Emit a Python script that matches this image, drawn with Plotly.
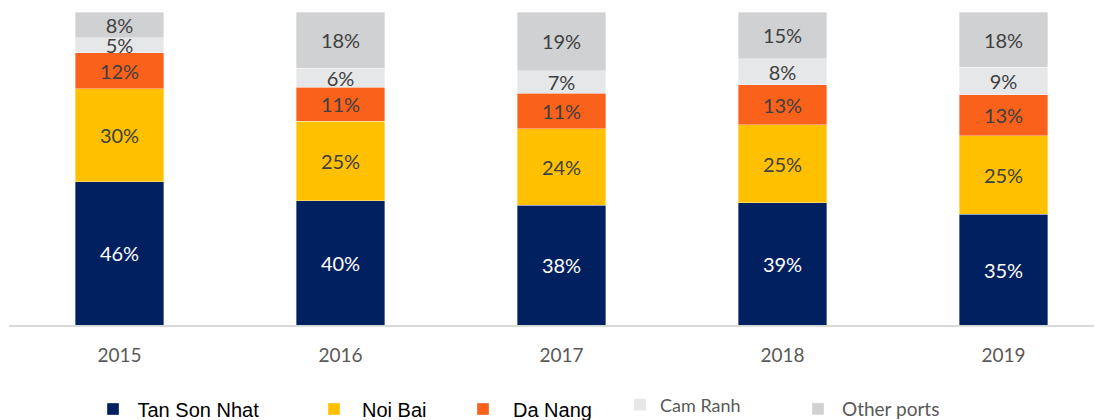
import plotly.graph_objects as go

years = ["2015", "2016", "2017", "2018", "2019"]
tan_son_nhat = [45.8, 39.7, 38.3, 39.1, 35.4]
noi_bai = [29.7, 25.4, 24.4, 24.9, 25.0]
da_nang = [11.5, 10.9, 11.3, 12.8, 13.1]
cam_ranh = [4.8, 6.1, 7.2, 8.2, 8.9]
other_ports = [8.2, 17.9, 18.8, 15.0, 17.6]

series = [
    ("Tan Son Nhat", tan_son_nhat, "#002060", "#FFFFFF", "legend"),
    ("Noi Bai", noi_bai, "#FFC000", "#404040", "legend2"),
    ("Da Nang", da_nang, "#FA621C", "#404040", "legend3"),
    ("Cam Ranh", cam_ranh, "#E6E7E8", "#404040", "legend4"),
    ("Other ports", other_ports, "#D0D1D3", "#404040", "legend5"),
]

fig = go.Figure()
for name, vals, color, tcolor, leg in series:
    fig.add_trace(go.Bar(
        x=years, y=vals, name=name, legend=leg, showlegend=True,
        marker=dict(color=color, line=dict(color="rgba(255,255,255,0.6)", width=0.6)),
        width=0.4,
        texttemplate="%{y:.0f}%", textposition="inside", insidetextanchor="middle",
        textangle=0,
        insidetextfont=dict(family="Lato, Open Sans, sans-serif", size=20, color=tcolor),
        hoverinfo="skip",
    ))

# The page body has an 8px default margin, so the figure is drawn at (8, 8).
OFF = 8
W, H = 1102 - OFF, 420 - OFF
ml, mr, mt, mb = 9 - OFF, 0, 12 - OFF, 420 - 325
pw = W - ml - mr
ph = H - mt - mb

def lx(px):
    return (px - OFF - ml) / pw

def ly(px):
    return (H - mb - (px - OFF)) / ph

legend_common = dict(orientation="h", xanchor="left", yanchor="middle",
                     bgcolor="rgba(0,0,0,0)", borderwidth=0, itemclick=False)
arial = dict(family="Liberation Sans, Arial, sans-serif", size=20, color="#000000")
lato_grey = dict(family="Lato, Open Sans, sans-serif", size=19, color="#595959")

fig.update_layout(
    width=W, height=H,
    barmode="stack",
    showlegend=True,
    margin=dict(l=ml, r=mr, t=mt, b=mb, pad=0, autoexpand=False),
    paper_bgcolor="white", plot_bgcolor="white",
    uniformtext=dict(mode="show", minsize=20),
    legend=dict(x=lx(88.5), y=ly(409), font=arial, itemwidth=39, **legend_common),
    legend2=dict(x=lx(306), y=ly(409), font=arial, itemwidth=46, **legend_common),
    legend3=dict(x=lx(453), y=ly(409), font=arial, itemwidth=50, **legend_common),
    legend4=dict(x=lx(620), y=ly(405), font=dict(lato_grey, size=18), itemwidth=30, **legend_common),
    legend5=dict(x=lx(794), y=ly(409), font=lato_grey, itemwidth=38, **legend_common),
    xaxis=dict(
        type="category", range=[-0.5, -0.5 + pw / 221.0],
        showline=True, linecolor="#D9D9D9", linewidth=1.5,
        showgrid=False, zeroline=False, ticks="",
        ticklabelstandoff=12,
        tickfont=dict(family="Lato, Open Sans, sans-serif", size=19, color="#595959"),
    ),
    yaxis=dict(range=[0, 100], visible=False, showgrid=False, zeroline=False),
)

fig.write_html("out.html")
